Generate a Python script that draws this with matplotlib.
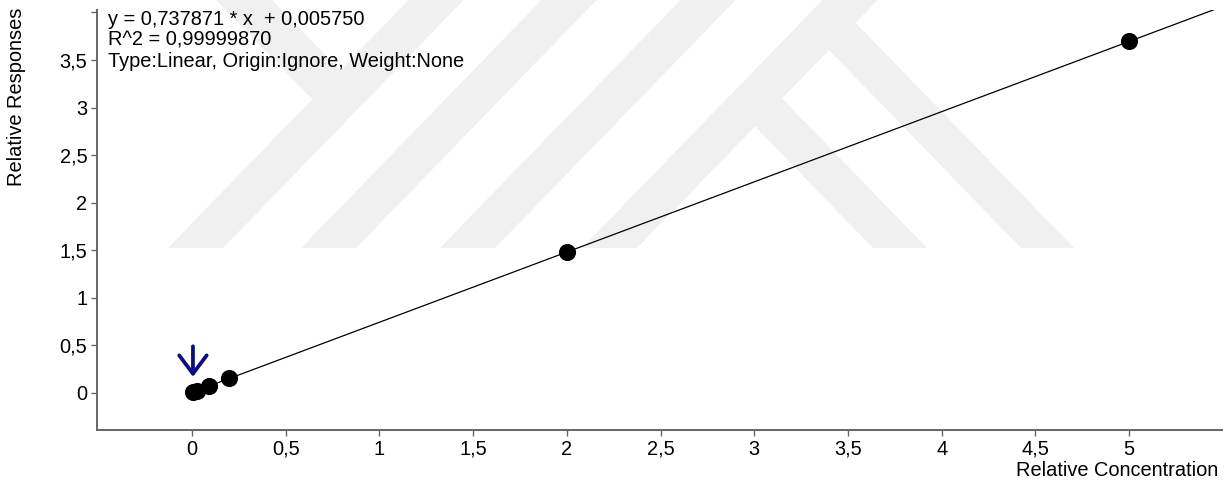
import matplotlib
matplotlib.use("Agg")
import matplotlib.pyplot as plt
from matplotlib.patches import Polygon

# Calibration standards (relative concentration vs. relative response)
concentration = [0.005, 0.025, 0.09, 0.2, 2.0, 5.0]
response = [0.0094, 0.0242, 0.0722, 0.1533, 1.4815, 3.6951]

# Linear regression result
slope = 0.737871
intercept = 0.005750
r_squared = 0.99999870

x_ticks = [0, 0.5, 1, 1.5, 2, 2.5, 3, 3.5, 4, 4.5, 5]
x_tick_labels = ["0", "0,5", "1", "1,5", "2", "2,5", "3", "3,5", "4", "4,5", "5"]
y_ticks = [0, 0.5, 1, 1.5, 2, 2.5, 3, 3.5, 4]
y_tick_labels = ["0", "0,5", "1", "1,5", "2", "2,5", "3", "3,5", ""]

plt.rcParams["font.family"] = ["Liberation Sans", "DejaVu Sans"]
FONT_SIZE = 14.4

W, H = 1231, 488
fig = plt.figure(figsize=(W / 100, H / 100), dpi=100)


def px(points):
    """Convert pixel positions (origin top-left) to figure fractions."""
    return [(x / W, 1 - y / H) for x, y in points]


# Faint background emblem made of diagonal bands
emblem = [
    [(168, 248), (223, 248), (463.6, 0), (408.6, 0)],
    [(216, 0), (272, 0), (354, 84.6), (326, 113.4)],
    [(301, 248), (356, 248), (596.6, 0), (541.6, 0)],
    [(440, 248), (495, 248), (735.6, 0), (680.6, 0)],
    [(582, 248), (637, 248), (877.6, 0), (822.6, 0)],
    [(741.5, 112.4), (768.5, 84.6), (927, 248), (873, 248)],
    [(815.5, 36.1), (842, 8.8), (1074, 248), (1021, 248)],
]
for shape in emblem:
    fig.add_artist(Polygon(px(shape), closed=True, transform=fig.transFigure,
                           facecolor="#f0f0f0", edgecolor="none", zorder=-5))

ax = fig.add_axes([97 / W, (H - 430) / H, 1125 / W, 420 / H])
ax.set_facecolor("none")
ax.set_xlim(-0.507, 5.496)
ax.set_ylim(-0.389, 4.026)

axis_color = "#666666"
for side in ("top", "right"):
    ax.spines[side].set_visible(False)
for side in ("left", "bottom"):
    ax.spines[side].set_color(axis_color)
    ax.spines[side].set_linewidth(1.4)

ax.set_xticks(x_ticks)
ax.set_xticklabels(x_tick_labels)
ax.set_yticks(y_ticks)
ax.set_yticklabels(y_tick_labels)
ax.tick_params(direction="out", length=4.5, width=1.0, color=axis_color,
               labelsize=FONT_SIZE, labelcolor="black", pad=2.5)

# Regression line across the plotted range
x_line = [min(concentration), ax.get_xlim()[1]]
y_line = [slope * v + intercept for v in x_line]
ax.plot(x_line, y_line, color="black", lw=0.9, zorder=2)

ax.plot(concentration, response, "o", color="black", ms=11.3, zorder=3)

# Arrow pointing at the lowest standard
ax.annotate("", xy=(concentration[0], response[0]), xytext=(0, 33),
            textcoords="offset points",
            arrowprops=dict(arrowstyle="->,head_length=0.6,head_width=0.45",
                            mutation_scale=22, lw=2.7, color="#0a0a8a",
                            shrinkA=0, shrinkB=11.0),
            zorder=4)

eq_lines = [
    f"y = {slope:.6f} * x  + {intercept:.6f}".replace(".", ","),
    f"R^2 = {r_squared:.8f}".replace(".", ","),
    "Type:Linear, Origin:Ignore, Weight:None",
]
for i, line in enumerate(eq_lines):
    baseline_px = 24.5 + 21.2 * i
    ax.text(11 / 1125, 1 - (baseline_px - 10) / 420, line, transform=ax.transAxes,
            fontsize=FONT_SIZE, va="baseline", ha="left", color="black")

ax.set_xlabel("Relative Concentration", loc="right", fontsize=FONT_SIZE)
ax.xaxis.set_label_coords(0.9964, -0.074)
ax.set_ylabel("Relative Responses", loc="top", fontsize=FONT_SIZE)
ax.yaxis.set_label_coords(-0.0634, 1.005)

fig.savefig("out.png", dpi=100)
